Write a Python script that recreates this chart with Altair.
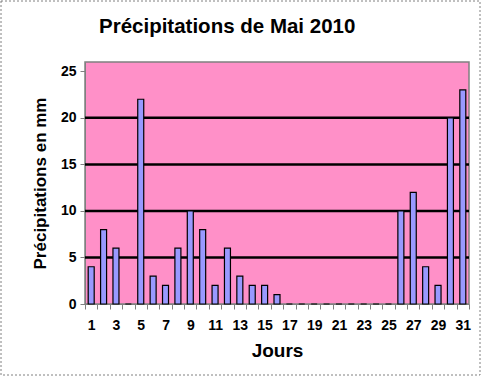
import altair as alt
import pandas as pd

days = list(range(1, 32))
rain = [4, 8, 6, 0, 22, 3, 2, 6, 10, 8, 2, 6, 3, 2, 2, 1,
        0, 0, 0, 0, 0, 0, 0, 0, 0, 10, 12, 4, 2, 20, 23]
grid_vals = [5, 10, 15, 20]

df = pd.DataFrame({"day": days, "rain": rain})
gdf = pd.DataFrame({"g": grid_vals})

FONT = "Liberation Sans"

xenc = alt.X("day:O", title="Jours",
             scale=alt.Scale(paddingInner=0, paddingOuter=0),
             axis=alt.Axis(labelAngle=0, tickBand="extent",
                           labelExpr="datum.value % 2 == 1 ? datum.label : ''",
                           labelFont=FONT, labelFontSize=14, labelFontWeight="bold",
                           labelColor="black", labelPadding=9,
                           titleFont=FONT, titleFontSize=19, titleFontWeight="bold",
                           titleColor="black", titlePadding=9,
                           domainColor="#808080", tickColor="#808080", tickSize=5))

grid = alt.Chart(gdf).mark_rule(color="black", strokeWidth=2.5).encode(
    y=alt.Y("g:Q")
)

bars = alt.Chart(df).mark_bar(size=6, color="#9999FF", stroke="black",
                              strokeWidth=1.2).encode(
    x=xenc,
    y=alt.Y("rain:Q", title="Précipitations en mm",
            scale=alt.Scale(domain=[0, 25]),
            axis=alt.Axis(values=[0, 5, 10, 15, 20, 25], grid=False,
                          labelFont=FONT, labelFontSize=14, labelFontWeight="bold",
                          labelColor="black", labelPadding=4,
                          titleFont=FONT, titleFontSize=17, titleFontWeight="bold",
                          titleColor="black", titlePadding=11,
                          domainColor="#808080", tickColor="#808080", tickSize=5))
)

border = alt.Chart(gdf.head(1)).mark_rect(fill=None, stroke="#808080",
                                          strokeDash=[2, 2], strokeWidth=1,
                                          clip=False).encode(
    x=alt.value(-84), x2=alt.value(395), y=alt.value(-61), y2=alt.value(313)
)

chart = alt.layer(grid, bars, border).properties(
    width=384, height=242,
    padding={"left": 85, "top": 62, "right": 12, "bottom": 72},
    autosize=alt.AutoSizeParams(type="none"),
    title=alt.TitleParams("Précipitations de Mai 2010", font=FONT, fontSize=20.5,
                          fontWeight="bold", color="black", anchor="start",
                          frame="group", dx=14, offset=-37),
    background="white",
).configure_view(fill="#FF90C8", stroke="#808080", strokeWidth=1.5)

chart.save("out.html", embed_options={"renderer": "svg", "actions": False})
